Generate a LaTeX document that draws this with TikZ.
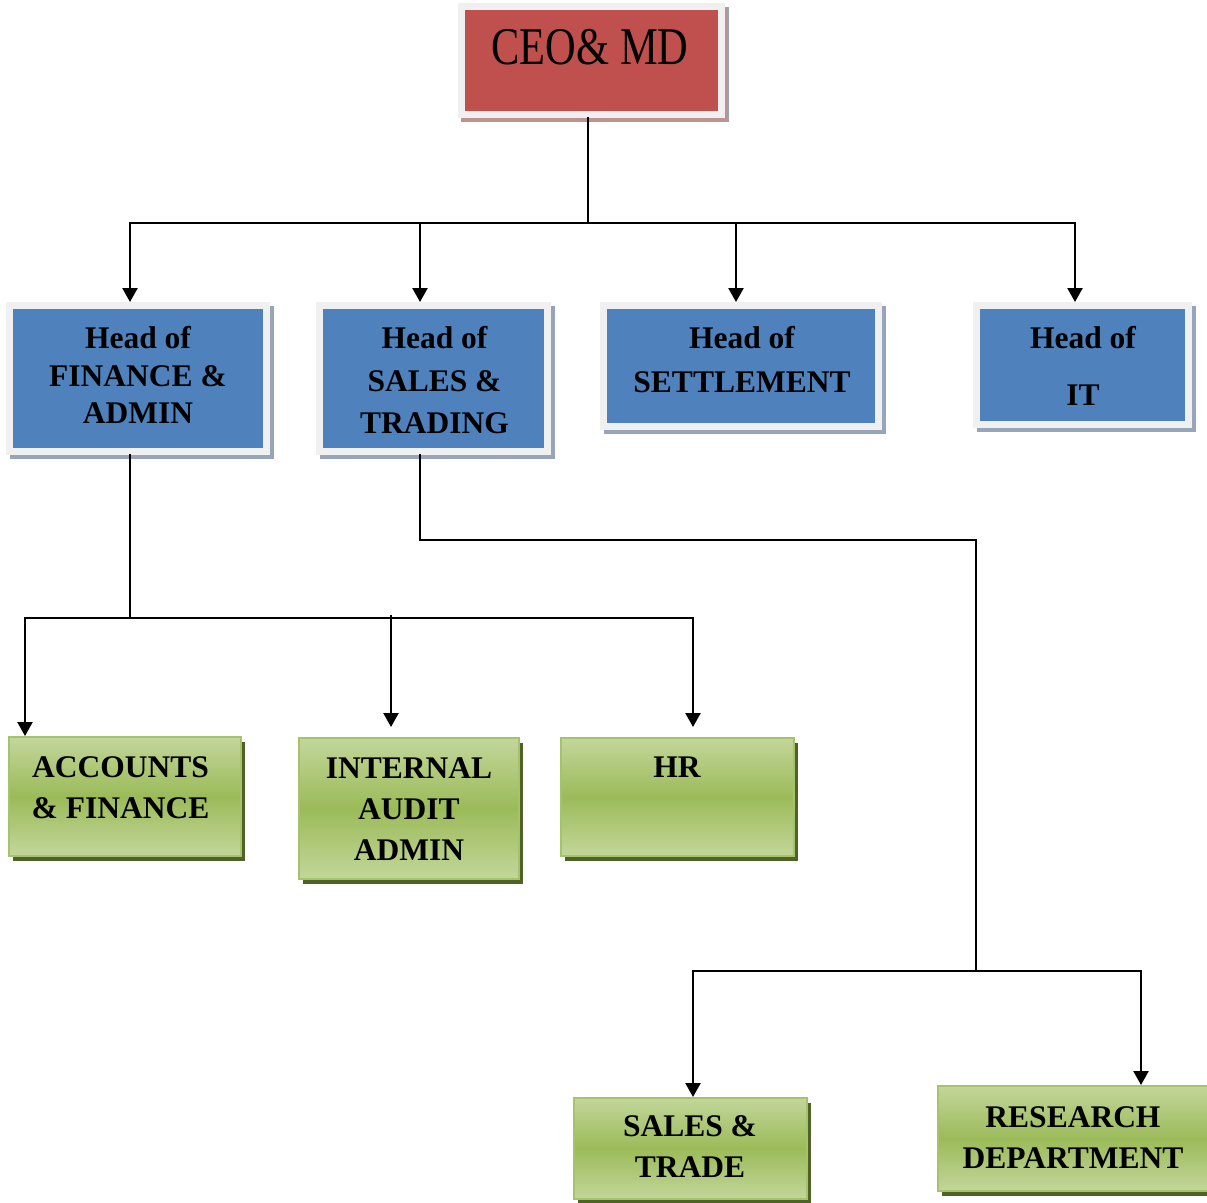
\documentclass[tikz,border=0pt]{standalone}
\usepackage{fontspec}
\usepackage{graphicx}
\setmainfont{Liberation Serif}
\usetikzlibrary{arrows.meta}
\definecolor{bluefill}{HTML}{4F81BD}
\definecolor{framegray}{HTML}{F0F0F0}
\definecolor{blueshadow}{HTML}{97A5BC}
\definecolor{redfill}{HTML}{C0504D}
\definecolor{redshadow}{HTML}{BF918F}
\definecolor{greenlight}{HTML}{C3D69B}
\definecolor{greenmid}{HTML}{9BBB59}
\definecolor{greenedge}{HTML}{A4C36A}
\definecolor{greenshadow}{HTML}{4F6228}
\begin{document}
\begin{tikzpicture}[x=1bp,y={(0bp,-1bp)},
  headbox/.style={rectangle, draw=framegray, line width=7bp, fill=bluefill, inner sep=0pt,
    preaction={fill=blueshadow, draw=blueshadow, line width=7bp, transform canvas={shift={(4bp,-4bp)}}}},
  ceobox/.style={headbox, fill=redfill,
    preaction={fill=redshadow, draw=redshadow, line width=7bp, transform canvas={shift={(3bp,-4bp)}}}},
  unitbox/.style={rectangle, draw=greenedge, line width=2bp, inner sep=0pt,
    top color=greenlight, bottom color=greenlight, middle color=greenmid,
    preaction={fill=greenshadow, transform canvas={shift={(4bp,-5bp)}}}},
  lbl/.style={font=\bfseries\fontsize{31.5bp}{41bp}\selectfont, align=center, anchor=north, inner sep=0pt, text=black},
  conn/.style={line width=2.4bp, draw=black, line cap=rect},
  arr/.style={line width=2.4bp, draw=black, -{Triangle[width=15bp,length=14bp]}}
]
\useasboundingbox (0,0) rectangle (1207,1203);
\fill[white] (0,0) rectangle (1207,1203);

% boxes
\node[ceobox, minimum width=260bp, minimum height=108bp] (ceo) at (591.75,60.5) {};
\node[headbox, minimum width=257bp, minimum height=146bp] (fin) at (138,378.5) {};
\node[headbox, minimum width=228bp, minimum height=146bp] (sal) at (433.5,378.5) {};
\node[headbox, minimum width=275bp, minimum height=121bp] (set) at (741,366) {};
\node[headbox, minimum width=212bp, minimum height=119bp] (it) at (1082.5,365) {};
\node[unitbox, minimum width=232bp, minimum height=119bp] (acc) at (125,796.5) {};
\node[unitbox, minimum width=220bp, minimum height=141bp] (aud) at (409,808.5) {};
\node[unitbox, minimum width=233bp, minimum height=118bp] (hr) at (677.5,797) {};
\node[unitbox, minimum width=233bp, minimum height=101bp] (st) at (690.5,1148.5) {};
\node[unitbox, minimum width=270bp, minimum height=105bp] (res) at (1073,1138.5) {};

% texts
\node[font=\fontsize{53bp}{60bp}\selectfont, anchor=base, inner sep=0pt] (ceot) at (590,64) {\scalebox{0.8}[1]{CEO\& MD}};
\node[lbl, font=\bfseries\fontsize{31.5bp}{37.5bp}\selectfont] (fint) at (138,326.5) {Head of\\FINANCE \&\\ADMIN};
\node[lbl, font=\bfseries\fontsize{31.5bp}{42.5bp}\selectfont] (salt) at (434.5,326.5) {Head of\\SALES \&\\TRADING};
\node[lbl, font=\bfseries\fontsize{31.5bp}{44bp}\selectfont] (sett) at (742,326.5) {Head of\\SETTLEMENT};
\node[lbl, font=\bfseries\fontsize{31.5bp}{57bp}\selectfont] (itt) at (1083,326.5) {Head of\\IT};
\node[lbl] (acct) at (120.5,756) {ACCOUNTS\\\& FINANCE};
\node[lbl] (audt) at (409,757) {INTERNAL\\AUDIT\\ADMIN};
\node[lbl] (hrt) at (677,757) {HR};
\node[lbl] (stt) at (690,1115.5) {SALES \&\\TRADE};
\node[lbl] (rest) at (1073,1106) {RESEARCH\\DEPARTMENT};

% bus 1
\coordinate (t0) at (588,223);
\coordinate (t1) at (130,223);
\coordinate (t2) at (420,223);
\coordinate (t3) at (736,223);
\coordinate (t4) at (1075,223);
\draw[conn] (t0 |- ceo.south) -- (t0);
\draw[conn] (t1) -- (t4);
\draw[arr] (t1) -- (t1 |- fin.north);
\draw[arr] (t2) -- (t2 |- sal.north);
\draw[arr] (t3) -- (t3 |- set.north);
\draw[arr] (t4) -- (t4 |- it.north);

% bus 2
\coordinate (f0) at (130,618);
\coordinate (f1) at (25,618);
\coordinate (f2) at (391,615);
\coordinate (f3) at (693,618);
\draw[conn] (t1 |- fin.south) -- (f0);
\draw[conn] (f1) -- (f3);
\draw[arr] (f1) -- (f1 |- acc.north);
\draw[arr, shorten >=10bp] (f2) -- (f2 |- aud.north);
\draw[arr, shorten >=10bp] (f3) -- (f3 |- hr.north);

% bus 3
\coordinate (s0) at (420,540);
\coordinate (s1) at (976,540);
\coordinate (s2) at (976,971);
\coordinate (s3) at (693,971);
\coordinate (s4) at (1141,971);
\draw[conn] (s0 |- sal.south) -- (s0) -- (s1) -- (s2);
\draw[conn] (s3) -- (s4);
\draw[arr] (s3) -- (s3 |- st.north);
\draw[arr] (s4) -- (s4 |- res.north);
\end{tikzpicture}
\end{document}
